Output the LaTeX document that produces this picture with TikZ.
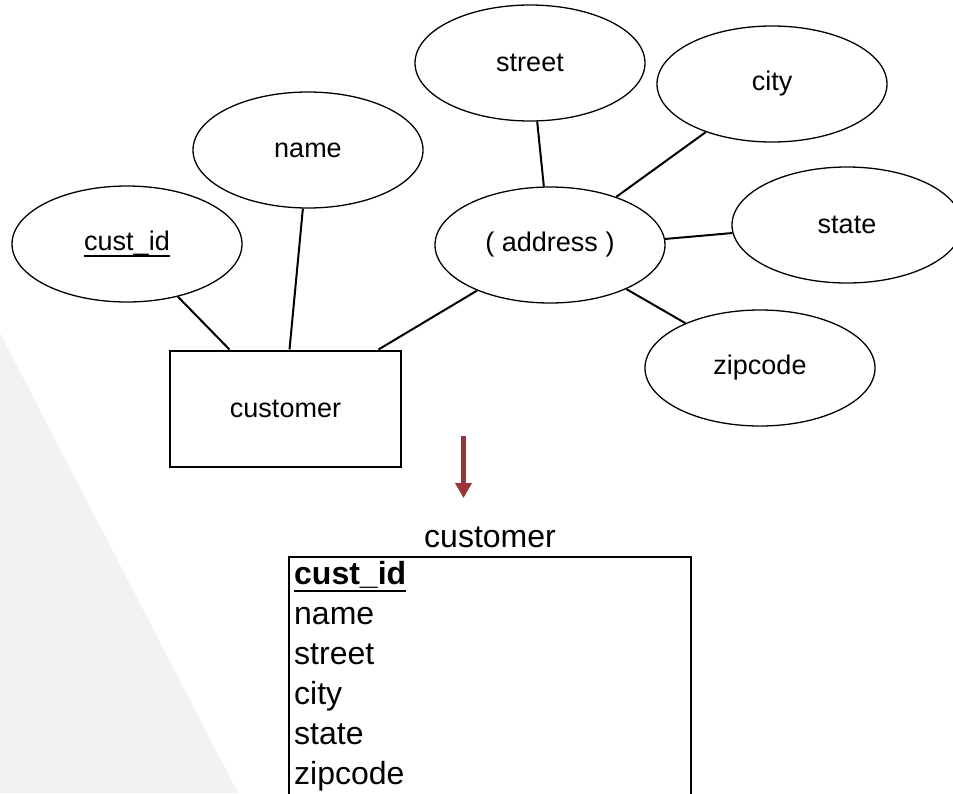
\documentclass[tikz,border=0pt]{standalone}
\usepackage{fontspec}
\setmainfont{Liberation Sans}
\usetikzlibrary{shapes.geometric,arrows.meta}
\definecolor{bggray}{HTML}{F2F2F2}
\definecolor{arrowred}{HTML}{9B3438}
\newsavebox\ulsave
\newcommand{\myul}[3]{\sbox\ulsave{#1}\rlap{\rule[#2]{\wd\ulsave}{#3}}\usebox\ulsave}
\begin{document}
\begin{tikzpicture}[x=1pt,y=-1pt,
  attr/.style={draw=black, line width=1.3pt, ellipse, minimum width=230pt, minimum height=116pt, inner sep=0pt, font=\fontsize{27}{32}\selectfont},
  ent/.style={draw=black, line width=2pt, rectangle, minimum width=231pt, minimum height=116pt, inner sep=0pt, font=\fontsize{27}{32}\selectfont},
  conn/.style={line width=2pt},
  rowtext/.style={anchor=base west, inner sep=0pt, font=\fontsize{32}{38}\selectfont},
  tableframe/.style={draw=black, line width=2pt, anchor=north west, minimum width=402pt, minimum height=280pt, inner sep=0pt}]
\useasboundingbox (0,0) rectangle (953,793);
\clip (0,0) rectangle (953,793);
\fill[bggray] (0,333) -- (238,793) -- (0,793) -- cycle;

% ER diagram
\node[ent] (cust) at (285.5,408.5) {customer};
\node[attr] (cid) at (127,244) {\myul{cust\_id}{-6pt}{1.5pt}};
\node[attr] (name) at (308,150) {name};
\node[attr] (street) at (530,63) {street};
\node[attr] (city) at (772,84) {city};
\node[attr] (addr) at (550,245) {( address )};
\node[attr] (state) at (847,225) {state};
\node[attr] (zip) at (760,368) {zipcode};

\draw[conn] (cid.-46) -- ([xshift=-56pt]cust.north);
\draw[conn] (name.-95) -- ([xshift=4pt]cust.north);
\draw[conn] (addr.-148) -- ([xshift=93pt]cust.north);
\draw[conn] (street.-83) -- (addr.96);
\draw[conn] (city.-144) -- (addr.36);
\draw[conn] (state.-176) -- (addr.3);
\draw[conn] (zip.149) -- (addr.-30);

% arrow
\coordinate (arrS) at (463.5,436);
\coordinate (arrE) at (463.5,498);
\draw[arrowred, line width=5pt, -{Triangle[width=16pt,length=15pt]}] (arrS) -- (arrE);

% table
\node[anchor=base, inner sep=0pt, font=\fontsize{32}{38}\selectfont] (ttitle) at (490,547) {customer};
\node[tableframe] (tbl) at (288,556) {};
\node[rowtext] (r1) at (294,584) {\myul{\bfseries cust\_id}{-8pt}{2.5pt}};
\node[rowtext] (r2) at (294,624) {name};
\node[rowtext] (r3) at (294,664) {street};
\node[rowtext] (r4) at (294,704) {city};
\node[rowtext] (r5) at (294,744) {state};
\node[rowtext] (r6) at (294,784) {zipcode};
\end{tikzpicture}
\end{document}
